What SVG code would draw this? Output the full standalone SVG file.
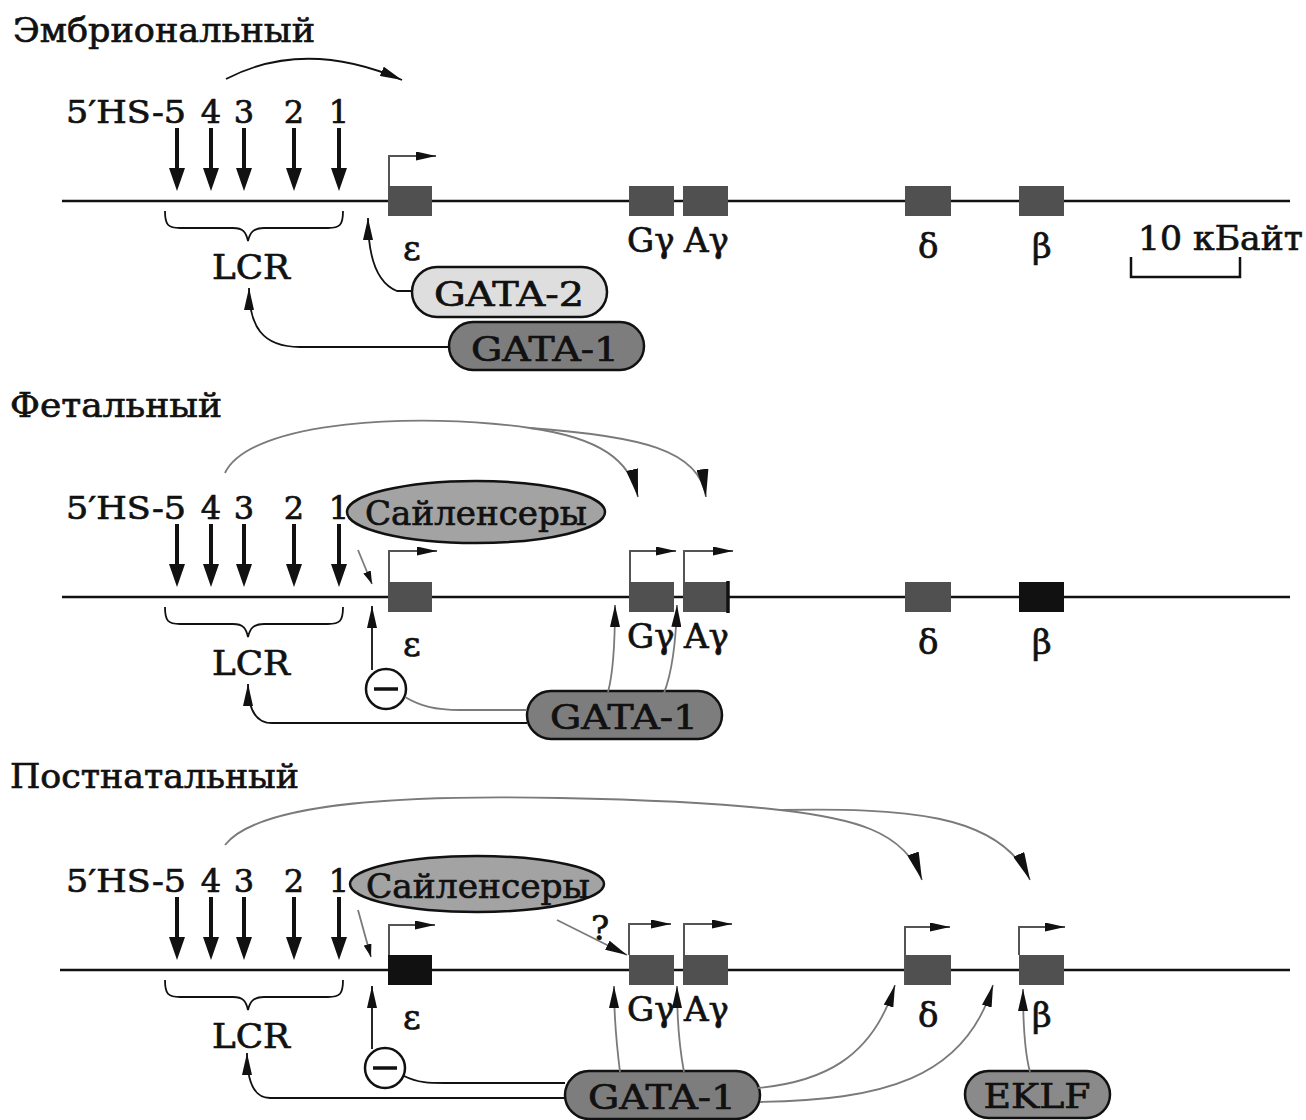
<svg xmlns="http://www.w3.org/2000/svg" xmlns:xlink="http://www.w3.org/1999/xlink" width="1306" height="1120" viewBox="0 0 1306 1120">
<style>
text{font-family:"DejaVu Serif","Liberation Serif",serif;fill:#111;stroke:#111;stroke-width:0.7}
.title{font-size:34px}
.hs{font-size:32px}
.lbl{font-size:34px}
.pilltxt{font-size:34px;text-anchor:middle}
.dna{stroke:#111;stroke-width:2.7;fill:none}
.gene{fill:#505050}
.geneb{fill:#111}
.prom{stroke:#555;stroke-width:2;fill:none}
.conn{stroke:#111;stroke-width:1.8;fill:none}
.connG{stroke:#7a7a7a;stroke-width:1.8;fill:none}
.brace{stroke:#111;stroke-width:1.8;fill:none}
.pill{stroke:#111;stroke-width:2.5}
</style>
<defs>
<marker id="ah" markerUnits="userSpaceOnUse" markerWidth="22" markerHeight="10" refX="22" refY="5" orient="auto"><path d="M0,0 L22,5 L0,10 z" fill="#111"/></marker>
<marker id="ahp" markerUnits="userSpaceOnUse" markerWidth="20" markerHeight="9" refX="20" refY="4.5" orient="auto"><path d="M0,0 L20,4.5 L0,9 z" fill="#111"/></marker>
<marker id="ahl" markerUnits="userSpaceOnUse" markerWidth="28" markerHeight="12" refX="28" refY="6" orient="auto"><path d="M0,0 L28,6 L0,12 z" fill="#111"/></marker>
<marker id="ahs" markerUnits="userSpaceOnUse" markerWidth="13" markerHeight="8" refX="13" refY="4" orient="auto"><path d="M0,0 L13,4 L0,8 z" fill="#111"/></marker>
<g id="hsArrow"><rect x="-2" y="0" width="4" height="42" fill="#111"/><polygon points="-8,40 8,40 0,63" fill="#111"/></g>
<path id="braceShape" d="M165,211 C165,225 168,228 180,228 L233,228 C243,228 246,232 248,241 C250,232 254,228 264,228 L328,228 C340,228 343,225 343,211"/>
</defs>

<!-- ===================== EMBRYONIC ===================== -->
<g id="embryonic-title"><text class="title" x="13" y="42" textLength="302" lengthAdjust="spacingAndGlyphs">Эмбриональный</text></g>

<g id="emb-hs">
<text class="hs" x="186" y="123" text-anchor="end" textLength="120" lengthAdjust="spacingAndGlyphs">5′HS-5</text>
<text class="hs" x="211" y="123" text-anchor="middle">4</text>
<text class="hs" x="244" y="123" text-anchor="middle">3</text>
<text class="hs" x="294" y="123" text-anchor="middle">2</text>
<text class="hs" x="339" y="123" text-anchor="middle">1</text>
<use xlink:href="#hsArrow" x="177" y="128"/>
<use xlink:href="#hsArrow" x="211" y="128"/>
<use xlink:href="#hsArrow" x="244" y="128"/>
<use xlink:href="#hsArrow" x="294" y="128"/>
<use xlink:href="#hsArrow" x="339" y="128"/>
</g>

<g id="emb-dna"><line class="dna" x1="62" y1="201" x2="1290" y2="201"/></g>

<g id="emb-eps"><rect class="gene" x="388" y="186" width="44" height="30"/><path class="prom" d="M389,186 L389,156 L436,156" marker-end="url(#ahp)"/><text class="lbl" x="403" y="260">ε</text></g>
<g id="emb-Gg"><rect class="gene" x="629" y="186" width="45" height="30"/><text class="lbl" x="627" y="252">Gγ</text></g>
<g id="emb-Ag"><rect class="gene" x="683" y="186" width="45" height="30"/><text class="lbl" x="684" y="252">Aγ</text></g>
<g id="emb-delta"><rect class="gene" x="905" y="186" width="46" height="30"/><text class="lbl" x="918" y="258">δ</text></g>
<g id="emb-beta"><rect class="gene" x="1019" y="186" width="45" height="30"/><text class="lbl" x="1032" y="258">β</text></g>

<g id="scale-bar">
<text class="lbl" x="1138" y="250" textLength="165" lengthAdjust="spacingAndGlyphs">10 кБайт</text>
<path d="M1131,257 L1131,277 L1240,277 L1240,257" stroke="#111" stroke-width="2.5" fill="none"/>
</g>

<g id="emb-lcr"><use xlink:href="#braceShape" class="brace"/><text class="lbl" x="251" y="279" text-anchor="middle" textLength="78" lengthAdjust="spacingAndGlyphs">LCR</text></g>

<g id="emb-gata2"><rect class="pill" x="412" y="267" width="195" height="50" rx="25" fill="#dedede"/><text class="pilltxt" x="509" y="306" textLength="150" lengthAdjust="spacingAndGlyphs">GATA-2</text></g>
<g id="emb-gata1"><rect class="pill" x="449" y="322" width="195" height="48" rx="24" fill="#7d7d7d"/><text class="pilltxt" x="545" y="361" textLength="148" lengthAdjust="spacingAndGlyphs">GATA-1</text></g>

<g id="emb-connectors">
<path class="conn" d="M226,79 Q305,38 402,80" marker-end="url(#ah)"/>
<path class="conn" d="M412,291 L397,291 C377,283 368,258 368,218" marker-end="url(#ah)"/>
<path class="conn" d="M449,347 L300,347 C262,347 249,326 249,288" marker-end="url(#ah)"/>
</g>

<!-- ===================== FETAL ===================== -->
<g id="fetal-title"><text class="title" x="10" y="417" textLength="212" lengthAdjust="spacingAndGlyphs">Фетальный</text></g>

<g id="fet-hs">
<text class="hs" x="186" y="519" text-anchor="end" textLength="120" lengthAdjust="spacingAndGlyphs">5′HS-5</text>
<text class="hs" x="211" y="519" text-anchor="middle">4</text>
<text class="hs" x="244" y="519" text-anchor="middle">3</text>
<text class="hs" x="294" y="519" text-anchor="middle">2</text>
<text class="hs" x="339" y="519" text-anchor="middle">1</text>
<use xlink:href="#hsArrow" x="177" y="524"/>
<use xlink:href="#hsArrow" x="211" y="524"/>
<use xlink:href="#hsArrow" x="244" y="524"/>
<use xlink:href="#hsArrow" x="294" y="524"/>
<use xlink:href="#hsArrow" x="339" y="524"/>
</g>

<g id="fet-dna"><line class="dna" x1="62" y1="597" x2="1290" y2="597"/></g>

<g id="fet-eps"><rect class="gene" x="388" y="582" width="44" height="30"/><path class="prom" d="M389,582 L389,551 L437,551" marker-end="url(#ahp)"/><text class="lbl" x="403" y="656">ε</text></g>
<g id="fet-Gg"><rect class="gene" x="629" y="582" width="45" height="30"/><path class="prom" d="M630,582 L630,551 L676,551" marker-end="url(#ahp)"/><text class="lbl" x="627" y="648">Gγ</text></g>
<g id="fet-Ag"><rect class="gene" x="683" y="582" width="45" height="30"/><line x1="728" y1="581" x2="728" y2="613" stroke="#111" stroke-width="3.5"/><path class="prom" d="M684,582 L684,551 L733,551" marker-end="url(#ahp)"/><text class="lbl" x="684" y="648">Aγ</text></g>
<g id="fet-delta"><rect class="gene" x="905" y="582" width="46" height="30"/><text class="lbl" x="918" y="654">δ</text></g>
<g id="fet-beta"><rect class="geneb" x="1019" y="582" width="45" height="30"/><text class="lbl" x="1032" y="654">β</text></g>

<g id="fet-lcr"><use xlink:href="#braceShape" class="brace" transform="translate(0,396)"/><text class="lbl" x="251" y="675" text-anchor="middle" textLength="78" lengthAdjust="spacingAndGlyphs">LCR</text></g>

<g id="fet-silencers"><ellipse cx="476" cy="512" rx="129" ry="31" fill="#a3a3a3" stroke="#111" stroke-width="2.5"/><text class="lbl" x="476" y="525" text-anchor="middle" textLength="222" lengthAdjust="spacingAndGlyphs">Сайленсеры</text></g>

<g id="fet-minus"><circle cx="386" cy="689" r="20" fill="#fff" stroke="#111" stroke-width="2.5"/><line x1="374" y1="689" x2="398" y2="689" stroke="#111" stroke-width="3.5"/></g>

<g id="fet-gata1"><rect class="pill" x="527" y="691" width="195" height="48" rx="24" fill="#7d7d7d"/><text class="pilltxt" x="624" y="729" textLength="148" lengthAdjust="spacingAndGlyphs">GATA-1</text></g>

<g id="fet-connectors">
<path class="connG" d="M225,473 C250,420 420,412 530,428 C600,438 630,460 638,497" marker-end="url(#ahl)"/>
<path class="connG" d="M530,428 C640,436 700,450 706,497" marker-end="url(#ahl)"/>
<path class="connG" d="M358,550 L372,584" marker-end="url(#ahs)"/>
<path class="conn" d="M372,670 L372,606" marker-end="url(#ah)"/>
<path class="connG" d="M405,697 C420,706 435,710 460,710 L527,710"/>
<path class="conn" d="M527,723 L272,723 C256,723 248,710 248,684" marker-end="url(#ah)"/>
<path class="connG" d="M608,692 C614,670 615,640 615,605" marker-end="url(#ah)"/>
<path class="connG" d="M664,693 C673,670 676,640 677,605" marker-end="url(#ah)"/>
</g>

<!-- ===================== POSTNATAL ===================== -->
<g id="postnatal-title"><text class="title" x="10" y="788" textLength="289" lengthAdjust="spacingAndGlyphs">Постнатальный</text></g>

<g id="post-hs">
<text class="hs" x="186" y="892" text-anchor="end" textLength="120" lengthAdjust="spacingAndGlyphs">5′HS-5</text>
<text class="hs" x="211" y="892" text-anchor="middle">4</text>
<text class="hs" x="244" y="892" text-anchor="middle">3</text>
<text class="hs" x="294" y="892" text-anchor="middle">2</text>
<text class="hs" x="339" y="892" text-anchor="middle">1</text>
<use xlink:href="#hsArrow" x="177" y="897"/>
<use xlink:href="#hsArrow" x="211" y="897"/>
<use xlink:href="#hsArrow" x="244" y="897"/>
<use xlink:href="#hsArrow" x="294" y="897"/>
<use xlink:href="#hsArrow" x="339" y="897"/>
</g>

<g id="post-dna"><line class="dna" x1="60" y1="970" x2="1290" y2="970"/></g>

<g id="post-eps"><rect class="geneb" x="388" y="955" width="44" height="30"/><path class="prom" d="M389,955 L389,925 L435,925" marker-end="url(#ahp)"/><text class="lbl" x="403" y="1029">ε</text></g>
<g id="post-Gg"><rect class="gene" x="629" y="955" width="45" height="30"/><path class="prom" d="M629,955 L629,924 L671,924" marker-end="url(#ahp)"/><text class="lbl" x="627" y="1021">Gγ</text></g>
<g id="post-Ag"><rect class="gene" x="683" y="955" width="45" height="30"/><path class="prom" d="M684,955 L684,924 L732,924" marker-end="url(#ahp)"/><text class="lbl" x="684" y="1021">Aγ</text></g>
<g id="post-delta"><rect class="gene" x="905" y="955" width="46" height="30"/><path class="prom" d="M905,985 L905,927 L950,927" marker-end="url(#ahp)"/><text class="lbl" x="918" y="1027">δ</text></g>
<g id="post-beta"><rect class="gene" x="1019" y="955" width="45" height="30"/><path class="prom" d="M1019,955 L1019,927 L1065,927" marker-end="url(#ahp)"/><text class="lbl" x="1032" y="1027">β</text></g>

<g id="post-lcr"><use xlink:href="#braceShape" class="brace" transform="translate(0,769)"/><text class="lbl" x="251" y="1048" text-anchor="middle" textLength="78" lengthAdjust="spacingAndGlyphs">LCR</text></g>

<g id="post-silencers"><ellipse cx="477" cy="884" rx="127" ry="28" fill="#a3a3a3" stroke="#111" stroke-width="2.5"/><text class="lbl" x="478" y="898" text-anchor="middle" textLength="224" lengthAdjust="spacingAndGlyphs">Сайленсеры</text></g>

<g id="post-question"><text class="lbl" x="600" y="940" text-anchor="middle" font-size="31">?</text></g>

<g id="post-minus"><circle cx="385" cy="1068" r="20" fill="#fff" stroke="#111" stroke-width="2.5"/><line x1="373" y1="1068" x2="397" y2="1068" stroke="#111" stroke-width="3.5"/></g>

<g id="post-gata1"><rect class="pill" x="565" y="1071" width="195" height="48" rx="24" fill="#7d7d7d"/><text class="pilltxt" x="662" y="1109" textLength="148" lengthAdjust="spacingAndGlyphs">GATA-1</text></g>
<g id="post-eklf"><rect class="pill" x="965" y="1071" width="145" height="47" rx="23.5" fill="#8a8a8a"/><text class="pilltxt" x="1037" y="1108" textLength="107" lengthAdjust="spacingAndGlyphs">EKLF</text></g>

<g id="post-connectors">
<path class="connG" d="M225,845 C260,800 420,795 560,798 C660,800 730,804 780,810 C850,818 905,830 922,880" marker-end="url(#ahl)"/>
<path class="connG" d="M780,810 C900,808 1000,812 1030,880" marker-end="url(#ahl)"/>
<path class="connG" d="M358,910 L371,957" marker-end="url(#ahs)"/>
<path class="connG" d="M557,920 L627,955" marker-end="url(#ah)"/>
<path class="conn" d="M372,1049 L372,986" marker-end="url(#ah)"/>
<path class="conn" d="M404,1076 C418,1083 430,1083 445,1083 L565,1083"/>
<path class="conn" d="M565,1098 L270,1098 C254,1098 247,1082 247,1053" marker-end="url(#ah)"/>
<path class="connG" d="M620,1072 C616,1040 614,1015 614,986" marker-end="url(#ah)"/>
<path class="connG" d="M684,1072 C678,1040 677,1015 677,986" marker-end="url(#ah)"/>
<path class="connG" d="M758,1088 C820,1082 872,1060 895,985" marker-end="url(#ah)"/>
<path class="connG" d="M760,1102 C880,1100 965,1080 993,985" marker-end="url(#ah)"/>
<path class="connG" d="M1030,1072 C1024,1050 1023,1020 1023,989" marker-end="url(#ah)"/>
</g>
</svg>
